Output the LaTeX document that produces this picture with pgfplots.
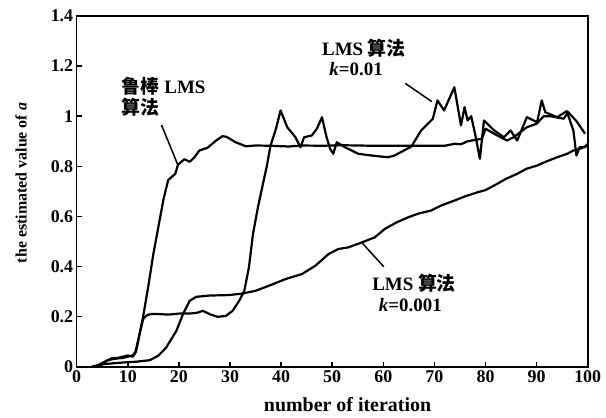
\documentclass[border=0pt]{standalone}
\usepackage{fontspec}
\setmainfont{Liberation Serif}
\newfontfamily\cjk{Noto Sans CJK SC}
\usepackage{pgfplots}
\pgfplotsset{compat=1.18}
\tikzset{curve/.style={black, line width=2.2bp, line join=round, mark=none}}
\begin{document}
\begin{tikzpicture}
\begin{axis}[
  scale only axis, width=511bp, height=350.7bp,
  xmin=0, xmax=100, ymin=0, ymax=1.4,
  xtick={0,10,20,30,40,50,60,70,80,90,100},
  ytick={0,0.2,0.4,0.6,0.8,1,1.2,1.4},
  tick align=inside, xtick pos=left, ytick pos=left,
  major tick length=5bp,
  axis line style={line width=1.6bp},
  every tick/.style={black, line width=1.5bp},
  /pgf/number format/assume math mode=true,
  ticklabel style={font=\fontsize{18}{21}\selectfont\bfseries},
  xlabel={number of iteration},
  ylabel={the estimated value of \textit{a}},
  xlabel style={at={(axis description cs:0.53,-0.109)}, anchor=center, font=\fontsize{20}{23}\selectfont\bfseries},
  ylabel style={at={(axis description cs:-0.109,0.524)}, anchor=center, rotate=0, font=\fontsize{16}{19}\selectfont\bfseries},
  clip=false,
]
% robust LMS
\addplot[curve] coordinates {(3,0) (4,0.003) (5,0.01) (6,0.025) (7,0.03) (8,0.033) (9,0.035) (10,0.04) (11,0.045) (11.5,0.06) (12.2,0.12) (13,0.2) (14,0.32) (15,0.45) (16,0.56) (17,0.67) (17.9,0.745) (18.5,0.756) (19.3,0.77) (19.8,0.805) (20.3,0.815) (21.1,0.828) (22.1,0.818) (23,0.835) (24,0.863) (25.6,0.874) (27.3,0.903) (28.5,0.92) (29.3,0.918) (31.1,0.896) (33.1,0.88) (35,0.883) (38,0.882) (41.5,0.879) (44,0.883) (48,0.882) (52,0.884) (58,0.882) (65,0.882) (72,0.882) (74,0.89) (75.2,0.888) (76.5,0.9) (79.3,0.91) (80,0.95) (82.3,0.923) (84.2,0.903) (85.5,0.916) (88.1,0.956) (90,0.97) (91.4,1.0) (92.7,1.0) (95.3,0.99) (96.2,1.016) (97.8,0.98) (99.5,0.93)};
% LMS k=0.01
\addplot[curve] coordinates {(3,0) (4,0.005) (5,0.015) (6,0.025) (7,0.035) (8,0.035) (9,0.04) (10,0.045) (11,0.04) (11.6,0.06) (12.3,0.13) (13,0.19) (13.7,0.205) (14.5,0.21) (16,0.21) (18,0.208) (20,0.212) (22,0.212) (23.5,0.215) (24.7,0.223) (26,0.21) (27.6,0.199) (29.2,0.203) (30.5,0.223) (31.8,0.263) (32.8,0.303) (33.7,0.396) (34.5,0.53) (35.5,0.64) (36.3,0.716) (37.2,0.8) (37.9,0.88) (39,0.95) (39.9,1.023) (41.2,0.956) (42.8,0.916) (43.8,0.876) (44.5,0.916) (46,0.923) (47,0.95) (48,0.996) (48.9,0.916) (49.6,0.87) (50.2,0.85) (50.9,0.896) (52.5,0.876) (55.1,0.85) (57.7,0.843) (60.9,0.836) (62.2,0.843) (65.5,0.879) (67.4,0.943) (69.7,0.99) (70.6,1.063) (71.9,1.023) (73.9,1.116) (75.2,0.963) (75.9,1.036) (76.5,0.983) (77.2,1.0) (78.1,0.916) (78.9,0.83) (79.7,0.983) (81.7,0.943) (83.6,0.916) (84.9,0.943) (86.2,0.903) (88.1,0.996) (90.1,0.976) (91.0,1.063) (91.7,1.016) (94,0.996) (95.9,1.02) (97.2,0.943) (97.8,0.843) (98.4,0.876) (99.5,0.876) (100,0.89)};
% LMS k=0.001
\addplot[curve] coordinates {(3,0) (4,0.003) (5.2,0.01) (8.5,0.016) (11.7,0.02) (14.3,0.026) (15.9,0.043) (17.5,0.076) (19.5,0.143) (20.8,0.21) (22.1,0.263) (23.4,0.279) (26,0.284) (29.8,0.286) (32.4,0.292) (35,0.303) (37.6,0.323) (40.9,0.35) (44.1,0.37) (46.7,0.403) (49.3,0.45) (51.2,0.47) (53.1,0.476) (55.4,0.493) (58.3,0.516) (60.3,0.55) (62.5,0.575) (64.8,0.596) (67,0.612) (69.3,0.623) (71.5,0.645) (73.9,0.663) (76,0.68) (78.4,0.696) (80,0.705) (82.3,0.73) (84,0.75) (86.2,0.77) (88,0.79) (90.1,0.803) (92,0.82) (94,0.836) (96,0.85) (97.2,0.863) (98.5,0.87) (100,0.885)};
% annotations
\draw[line width=1.5bp] (axis cs:16.6,0.965) -- (axis cs:19.8,0.805);
\draw[line width=1.5bp] (axis cs:64.3,1.131) -- (axis cs:69.5,1.058);
\draw[line width=1.5bp] (axis cs:55.9,0.493) -- (axis cs:60.1,0.399);
\node[anchor=base west, inner sep=0pt, font=\fontsize{19}{22}\selectfont\bfseries] at (axis cs:8.8,1.089) {{\cjk 鲁棒} LMS};
\node[anchor=base west, inner sep=0pt, font=\fontsize{19}{22}\selectfont\bfseries] at (axis cs:8.8,1.005) {\cjk 算法};
\node[anchor=base west, inner sep=0pt, font=\fontsize{19}{22}\selectfont\bfseries] at (axis cs:48.0,1.244) {LMS {\cjk 算法}};
\node[anchor=base west, inner sep=0pt, font=\fontsize{19}{22}\selectfont\bfseries] at (axis cs:49.4,1.164) {\textit{k}=0.01};
\node[anchor=base west, inner sep=0pt, font=\fontsize{19}{22}\selectfont\bfseries] at (axis cs:57.8,0.306) {LMS {\cjk 算法}};
\node[anchor=base west, inner sep=0pt, font=\fontsize{19}{22}\selectfont\bfseries] at (axis cs:59.1,0.22) {\textit{k}=0.001};
\end{axis}
\pgfresetboundingbox
\path ([xshift=-76.7bp,yshift=-51.3bp]current axis.south west) rectangle ++(606bp,418bp);
\end{tikzpicture}
\end{document}
